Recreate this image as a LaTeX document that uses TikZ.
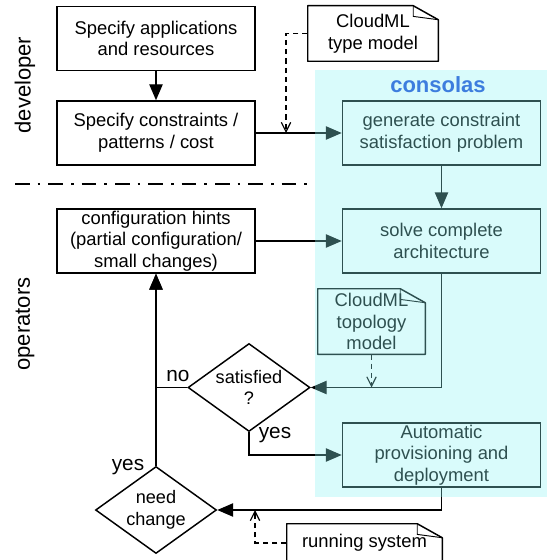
\documentclass[tikz,border=0pt]{standalone}
\usepackage{fontspec}
\setmainfont{Liberation Sans}
\usetikzlibrary{shapes.geometric,arrows.meta}

\begin{document}
\begin{tikzpicture}[x=0.75pt, y=-0.75pt,
	box/.style={draw, line width=1.1pt, minimum width=148.5pt, minimum height=48pt,
		inner sep=0pt, align=center, font=\fontsize{13.8}{16.3}\selectfont},
	decision/.style={diamond, draw, line width=1.1pt, inner sep=0pt, aspect=1.39,
		align=center, font=\fontsize{13.6}{16.3}\selectfont},
	note/.style={rectangle, inner sep=0pt, align=center, font=\fontsize{13.8}{16.3}\selectfont},
	answer/.style={inner sep=0pt, font=\fontsize{15.6}{18}\selectfont},
	lane/.style={rotate=90, inner sep=0pt, font=\fontsize{16.5}{19}\selectfont},
	flow/.style={line width=1.1pt, -{Triangle[length=12pt, width=10pt]}},
	hint/.style={line width=0.9pt, dash pattern=on 4pt off 3pt, -{Straight Barb[length=7pt, width=7pt]}}
]
	\definecolor{consolasfill}{RGB}{141, 243, 243}
	\definecolor{consolasblue}{RGB}{61, 125, 222}
	\useasboundingbox (0, 0) rectangle (548, 560);

	% lanes
	\node[lane] (developer) at (25, 85) {developer};
	\node[lane] (operators) at (25, 324) {operators};
	\draw[line width=1.1pt, dash pattern=on 11pt off 6pt on 2pt off 6pt] (15, 184) -- (310, 184);

	% steps
	\node[box] (spec) at (156, 38.5) {Specify applications\\and resources};
	\node[box] (cons) at (156, 133) {Specify constraints /\\patterns / cost};
	\node[box] (hints) at (156, 241) {configuration hints\\(partial configuration/\\small changes)};
	\node[box] (gen) at (441.5, 133) {generate constraint\\satisfaction problem};
	\node[box] (solve) at (441.5, 241) {solve complete\\architecture};
	\node[box] (auto) at (441.5, 455) {Automatic\\provisioning and\\deployment};
	\node[decision, minimum width=91.5pt, minimum height=66pt] (sat) at (249, 387.5) {satisfied\\?};
	\node[decision, minimum width=90.75pt, minimum height=65.25pt] (need) at (156, 510) {need\\change};

	% models
	\node[note, minimum width=97.5pt, minimum height=41.25pt] (typemodel) at (373, 33.5) {CloudML\\type model};
	\node[note, minimum width=80.25pt, minimum height=48.75pt] (topomodel) at (371.5, 321.5) {CloudML\\topology\\model};
	\node[note, minimum width=116.25pt, minimum height=28.5pt] (running) at (364.5, 543) {running system};
	\foreach \n in {typemodel, topomodel, running}{
		\draw[line width=1.1pt, line join=round] (\n.south west) -- (\n.north west)
			-- ([xshift=-18.75pt]\n.north east) -- ([yshift=-10.5pt]\n.north east)
			-- (\n.south east) -- cycle;
		\draw[line width=0.7pt] ([xshift=-18.75pt]\n.north east)
			-- ([xshift=-18.75pt, yshift=-8pt]\n.north east) -- ([yshift=-10.5pt]\n.north east);
	}

	% flow
	\draw[flow] (spec) -- (cons);
	\draw[flow] (cons) -- (gen);
	\draw[flow] (gen) -- (solve);
	\draw[flow] (hints) -- (solve);
	\draw[flow] (solve.south) |- (sat.east);
	\draw[flow] (sat.west) -| (hints.south);
	\draw[flow] (sat.south) |- (auto.west);
	\draw[flow] (auto.south) |- (need.east);
	\draw[flow] (need.north) -- (hints.south);
	\node[answer] (nolabel) at (178, 376.5) {no};
	\node[answer] (satyes) at (275, 435) {yes};
	\node[answer] (needyes) at (128, 467) {yes};

	% model inputs
	\coordinate (typeend) at (286, 133);
	\coordinate (topoend) at (topomodel.south |- sat.east);
	\coordinate (runend) at (255, 510);
	\draw[hint] (typemodel.west) -| (typeend);
	\draw[hint] (topomodel.south) -- (topoend);
	\draw[hint] (running.west) -| (runend);

	% consolas
	\fill[consolasfill, opacity=.33] (315, 70) rectangle (547, 497);
	\node[font=\bfseries\fontsize{16.5}{19}\selectfont, text=consolasblue, inner sep=0pt] (consolas) at (438, 85) {consolas};
\end{tikzpicture}
\end{document}
